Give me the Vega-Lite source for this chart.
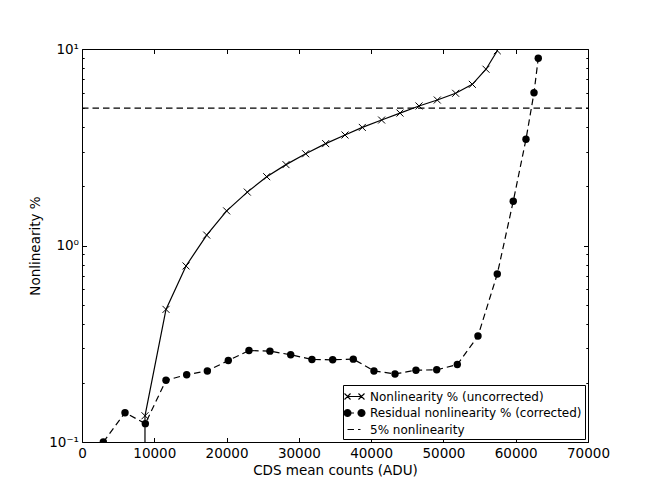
{
  "$schema": "https://vega.github.io/schema/vega-lite/v6.json",
  "width": 506,
  "height": 393,
  "autosize": {"type": "none"},
  "padding": {"left": 82, "top": 49, "right": 66, "bottom": 49},
  "background": "white",
  "config": {
    "view": {"stroke": "black", "strokeWidth": 1},
    "font": "DejaVu Sans",
    "axis": {
      "domain": false,
      "grid": false,
      "tickColor": "black",
      "tickWidth": 1,
      "labelColor": "black",
      "labelFont": "DejaVu Sans",
      "labelFontSize": 13.5,
      "titleFont": "DejaVu Sans",
      "titleFontSize": 13.5,
      "titleFontWeight": "normal",
      "titleColor": "black",
      "labelFlush": false,
      "labelOverlap": false
    }
  },
  "data": {
    "values": [
      {"s": "Nonlinearity % (uncorrected)", "x": 8700, "y": 0.01},
      {"s": "Nonlinearity % (uncorrected)", "x": 8714, "y": 0.136},
      {"s": "Nonlinearity % (uncorrected)", "x": 11620, "y": 0.473},
      {"s": "Nonlinearity % (uncorrected)", "x": 14390, "y": 0.787},
      {"s": "Nonlinearity % (uncorrected)", "x": 17250, "y": 1.13},
      {"s": "Nonlinearity % (uncorrected)", "x": 20010, "y": 1.5},
      {"s": "Nonlinearity % (uncorrected)", "x": 22870, "y": 1.87},
      {"s": "Nonlinearity % (uncorrected)", "x": 25550, "y": 2.24},
      {"s": "Nonlinearity % (uncorrected)", "x": 28220, "y": 2.58},
      {"s": "Nonlinearity % (uncorrected)", "x": 30940, "y": 2.93},
      {"s": "Nonlinearity % (uncorrected)", "x": 33710, "y": 3.3},
      {"s": "Nonlinearity % (uncorrected)", "x": 36380, "y": 3.65},
      {"s": "Nonlinearity % (uncorrected)", "x": 38780, "y": 3.99},
      {"s": "Nonlinearity % (uncorrected)", "x": 41450, "y": 4.35},
      {"s": "Nonlinearity % (uncorrected)", "x": 43990, "y": 4.72},
      {"s": "Nonlinearity % (uncorrected)", "x": 46620, "y": 5.13},
      {"s": "Nonlinearity % (uncorrected)", "x": 49150, "y": 5.5},
      {"s": "Nonlinearity % (uncorrected)", "x": 51690, "y": 5.95},
      {"s": "Nonlinearity % (uncorrected)", "x": 54000, "y": 6.61},
      {"s": "Nonlinearity % (uncorrected)", "x": 55890, "y": 7.89},
      {"s": "Nonlinearity % (uncorrected)", "x": 57450, "y": 9.8},
      {"s": "Residual nonlinearity % (corrected)", "x": 2950, "y": 0.1},
      {"s": "Residual nonlinearity % (corrected)", "x": 5950, "y": 0.141},
      {"s": "Residual nonlinearity % (corrected)", "x": 8760, "y": 0.124},
      {"s": "Residual nonlinearity % (corrected)", "x": 11620, "y": 0.206},
      {"s": "Residual nonlinearity % (corrected)", "x": 14480, "y": 0.22},
      {"s": "Residual nonlinearity % (corrected)", "x": 17340, "y": 0.23},
      {"s": "Residual nonlinearity % (corrected)", "x": 20240, "y": 0.26},
      {"s": "Residual nonlinearity % (corrected)", "x": 23100, "y": 0.292},
      {"s": "Residual nonlinearity % (corrected)", "x": 26000, "y": 0.29},
      {"s": "Residual nonlinearity % (corrected)", "x": 28870, "y": 0.278},
      {"s": "Residual nonlinearity % (corrected)", "x": 31810, "y": 0.263},
      {"s": "Residual nonlinearity % (corrected)", "x": 34680, "y": 0.262},
      {"s": "Residual nonlinearity % (corrected)", "x": 37530, "y": 0.264},
      {"s": "Residual nonlinearity % (corrected)", "x": 40390, "y": 0.23},
      {"s": "Residual nonlinearity % (corrected)", "x": 43300, "y": 0.222},
      {"s": "Residual nonlinearity % (corrected)", "x": 46200, "y": 0.232},
      {"s": "Residual nonlinearity % (corrected)", "x": 49070, "y": 0.233},
      {"s": "Residual nonlinearity % (corrected)", "x": 51920, "y": 0.248},
      {"s": "Residual nonlinearity % (corrected)", "x": 54780, "y": 0.346},
      {"s": "Residual nonlinearity % (corrected)", "x": 57450, "y": 0.716},
      {"s": "Residual nonlinearity % (corrected)", "x": 59660, "y": 1.68},
      {"s": "Residual nonlinearity % (corrected)", "x": 61420, "y": 3.47},
      {"s": "Residual nonlinearity % (corrected)", "x": 62530, "y": 5.99},
      {"s": "Residual nonlinearity % (corrected)", "x": 63120, "y": 8.97},
      {"s": "5% nonlinearity", "x": 0, "y": 5},
      {"s": "5% nonlinearity", "x": 70000, "y": 5}
    ]
  },
  "layer": [
    {
      "transform": [{"filter": "datum.s == 'Nonlinearity % (uncorrected)'"}],
      "mark": {"type": "line", "color": "black", "strokeWidth": 1.2, "clip": true},
      "encoding": {
        "x": {
          "field": "x", "type": "quantitative",
          "scale": {"domain": [0, 70000], "nice": false, "zero": false},
          "axis": {
            "orient": "bottom",
            "values": [0, 10000, 20000, 30000, 40000, 50000, 60000, 70000],
            "format": "d",
            "title": "CDS mean counts (ADU)",
            "labelFontSize": 13.5,
            "titleFontSize": 13.5,
            "tickSize": -4.5,
            "labelPadding": 8.5,
            "titlePadding": 4
          }
        },
        "y": {
          "field": "y", "type": "quantitative",
          "scale": {"type": "log", "domain": [0.1, 10], "nice": false},
          "axis": {
            "orient": "left",
            "values": [0.1, 0.2, 0.3, 0.4, 0.5, 0.6, 0.7, 0.8, 0.9, 1, 2, 3, 4, 5, 6, 7, 8, 9, 10],
            "labelExpr": "datum.value == 10 ? '10¹' : datum.value == 1 ? '10⁰' : datum.value == 0.1 ? '10⁻¹' : ''",
            "title": "Nonlinearity %",
            "labelFontSize": 13.5,
            "titleFontSize": 13.5,
            "tickSize": {"condition": {"test": "datum.value == 0.1 || datum.value == 1 || datum.value == 10", "value": -4.5}, "value": -2.2},
            "labelPadding": 8,
            "titlePadding": 6
          }
        }
      }
    },
    {
      "transform": [{"filter": "datum.s == 'Residual nonlinearity % (corrected)'"}],
      "mark": {"type": "line", "color": "black", "strokeWidth": 1.2, "strokeDash": [6.5, 4], "clip": true},
      "encoding": {
        "x": {"field": "x", "type": "quantitative", "axis": null},
        "y": {"field": "y", "type": "quantitative", "axis": null}
      }
    },
    {
      "transform": [{"filter": "datum.s == '5% nonlinearity'"}],
      "mark": {"type": "line", "color": "black", "strokeWidth": 1.2, "strokeDash": [6.5, 4], "clip": true},
      "encoding": {
        "x": {"field": "x", "type": "quantitative", "axis": null},
        "y": {"field": "y", "type": "quantitative", "axis": null}
      }
    },
    {
      "transform": [{"filter": "datum.s == 'Nonlinearity % (uncorrected)'"}],
      "mark": {"type": "point", "shape": "M-1,-1L1,1M-1,1L1,-1", "size": 49, "filled": false, "stroke": "black", "strokeWidth": 1, "opacity": 1, "clip": true},
      "encoding": {
        "x": {
          "field": "x", "type": "quantitative",
          "axis": {
            "orient": "top",
            "values": [0, 10000, 20000, 30000, 40000, 50000, 60000, 70000],
            "labels": false, "title": null, "tickSize": -4.5
          }
        },
        "y": {
          "field": "y", "type": "quantitative",
          "axis": {
            "orient": "right",
            "values": [0.1, 0.2, 0.3, 0.4, 0.5, 0.6, 0.7, 0.8, 0.9, 1, 2, 3, 4, 5, 6, 7, 8, 9, 10],
            "labels": false, "title": null,
            "tickSize": {"condition": {"test": "datum.value == 0.1 || datum.value == 1 || datum.value == 10", "value": -4.5}, "value": -2.2}
          }
        }
      }
    },
    {
      "transform": [{"filter": "datum.s == 'Residual nonlinearity % (corrected)'"}],
      "mark": {"type": "point", "shape": "circle", "size": 55, "filled": true, "color": "black", "opacity": 1, "clip": true},
      "encoding": {
        "x": {"field": "x", "type": "quantitative", "axis": null},
        "y": {"field": "y", "type": "quantitative", "axis": null}
      }
    },
    {
      "mark": {"type": "point", "fill": "black", "stroke": "black", "strokeWidth": 1.1, "opacity": 1, "size": 0, "clip": true},
      "encoding": {
        "x": {"field": "x", "type": "quantitative", "axis": null},
        "y": {"field": "y", "type": "quantitative", "axis": null},
        "shape": {
          "field": "s", "type": "nominal",
          "scale": {
            "domain": ["Nonlinearity % (uncorrected)", "Residual nonlinearity % (corrected)", "5% nonlinearity"],
            "range": [
              "M-0.93,0H0.93M-1.33,-0.4L-0.53,0.4M-1.33,0.4L-0.53,-0.4M0.53,-0.4L1.33,0.4M0.53,0.4L1.33,-0.4",
              "M-0.93,0H-0.07M-0.46,0L-0.523,0.235L-0.695,0.407L-0.93,0.47L-1.165,0.407L-1.337,0.235L-1.4,0L-1.337,-0.235L-1.165,-0.407L-0.93,-0.47L-0.695,-0.407L-0.523,-0.235ZM1.4,0L1.337,0.235L1.165,0.407L0.93,0.47L0.695,0.407L0.523,0.235L0.46,0L0.523,-0.235L0.695,-0.407L0.93,-0.47L1.165,-0.407L1.337,-0.235Z",
              "M-0.93,0H-0.07M0.47,0H0.8"
            ]
          },
          "legend": {
            "title": null,
            "orient": "bottom-right",
            "offset": 3,
            "padding": 3,
            "strokeColor": "black",
            "fillColor": "white",
            "cornerRadius": 0,
            "symbolSize": 225,
            "symbolOpacity": 1,
            "symbolStrokeWidth": 1.1,
            "labelFont": "DejaVu Sans",
            "labelFontSize": 12,
            "labelColor": "black",
            "labelOffset": 7,
            "labelLimit": 300,
            "rowPadding": 1.5
          }
        }
      }
    }
  ],
  "resolve": {"axis": {"x": "independent", "y": "independent"}}
}
